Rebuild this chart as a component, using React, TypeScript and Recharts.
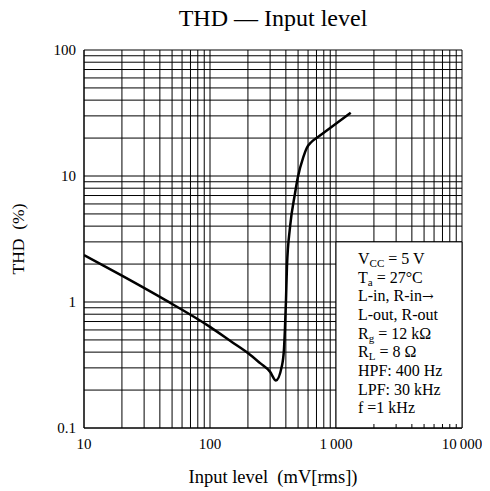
import React from "react";
import {
  LineChart,
  Line,
  XAxis,
  YAxis,
  CartesianGrid,
  ReferenceArea,
  ReferenceLine,
  Label,
} from "recharts";

// input level (mV rms) and THD (%)
const inputLevel = [
  10, 20, 44, 100, 150, 201, 250, 299, 334, 371, 386, 393, 401, 408, 432, 473,
  496, 551, 585, 641, 724, 1309,
];
const thd = [
  2.36, 1.62, 1.04, 0.635, 0.48, 0.392, 0.327, 0.28, 0.238, 0.307, 0.415, 0.6,
  1.04, 1.9, 3.96, 7.3, 9.6, 14.2, 16.6, 18.7, 20.5, 31.8,
];

const xTicks = [
  10, 20, 30, 40, 50, 60, 70, 80, 90,
  100, 200, 300, 400, 500, 600, 700, 800, 900,
  1000, 2000, 3000, 4000, 5000, 6000, 7000, 8000, 9000, 10000,
];
const xMajor = [10, 100, 1000, 10000];
const xMajorLabels = ["10", "100", "1\u2009000", "10\u2009000"];
const xInnerTicks = [2000, 3000, 4000, 5000, 6000, 7000, 8000, 9000];

const yTicks = [
  0.1, 0.2, 0.3, 0.4, 0.5, 0.6, 0.7, 0.8, 0.9,
  1, 2, 3, 4, 5, 6, 7, 8, 9,
  10, 20, 30, 40, 50, 60, 70, 80, 90, 100,
];
const yMajor = [0.1, 1, 10, 100];
const yMajorLabels = ["0.1", "1", "10", "100"];

const data = inputLevel.map((x, i) => ({ x, y: thd[i] }));

const FONT = "'Liberation Serif', 'Times New Roman', serif";

const conditionsBox = (props: any) => {
  const vb = props.viewBox || {};
  const x0 = vb.x + 22;
  const y0 = vb.y + 22;
  const lh = 18.7;
  const sub = { fontSize: 11 };
  return (
    <text x={x0} y={y0} fontSize={16} fill="#000" fontFamily={FONT}>
      <tspan x={x0} y={y0}>V</tspan>
      <tspan dy={3} style={sub}>CC</tspan>
      <tspan dy={-3}> = 5 V</tspan>
      <tspan x={x0} y={y0 + lh}>T</tspan>
      <tspan dy={3} style={sub}>a</tspan>
      <tspan dy={-3}> = 27°C</tspan>
      <tspan x={x0} y={y0 + lh * 2}>L-in, R-in</tspan>
      <tspan style={{ fontFamily: "'DejaVu Serif', serif", fontSize: 14 }}>→</tspan>
      <tspan x={x0} y={y0 + lh * 3}>L-out, R-out</tspan>
      <tspan x={x0} y={y0 + lh * 4}>R</tspan>
      <tspan dy={3} style={sub}>g</tspan>
      <tspan dy={-3}> = 12 kΩ</tspan>
      <tspan x={x0} y={y0 + lh * 5}>R</tspan>
      <tspan dy={3} style={sub}>L</tspan>
      <tspan dy={-3}> = 8 Ω</tspan>
      <tspan x={x0} y={y0 + lh * 6}>HPF: 400 Hz</tspan>
      <tspan x={x0} y={y0 + lh * 7}>LPF: 30 kHz</tspan>
      <tspan x={x0} y={y0 + lh * 8}>f =1 kHz</tspan>
    </text>
  );
};

const yLabel = (props: any) => {
  const vb = props.viewBox || {};
  const cx = vb.x + 10;
  const cy = vb.y + vb.height / 2;
  return (
    <text
      x={cx}
      y={cy}
      transform={`rotate(-90 ${cx} ${cy})`}
      textAnchor="middle"
      dominantBaseline="central"
      fontSize={17.5}
      fill="#000"
      fontFamily={FONT}
    >
      {"THD\u00a0\u00a0(%)"}
    </text>
  );
};

// short tick rising from the bottom edge of the conditions box
const innerTick = (p: any) => {
  const yb = Math.max(p.y1, p.y2);
  return <line x1={p.x1} x2={p.x2} y1={yb} y2={yb - 4} stroke="#000" strokeWidth={1} />;
};

export default function App() {
  return (
    <div style={{ position: "relative", width: 474, height: 483, fontFamily: FONT }}>
      <div
        style={{
          position: "absolute",
          left: 76,
          width: 378,
          top: -2,
          textAlign: "center",
          fontSize: 24,
          lineHeight: "24px",
          color: "#000",
        }}
      >
        THD — Input level
      </div>
      <LineChart
        width={474}
        height={483}
        data={data}
        margin={{ top: 42, right: 20, bottom: 0, left: 0 }}
      >
        <CartesianGrid stroke="#000" strokeWidth={1} />
        <ReferenceArea
          x1={1000}
          x2={10000}
          y1={0.1}
          y2={3}
          fill="#fff"
          fillOpacity={1}
          stroke="#000"
          strokeWidth={1}
          label={conditionsBox}
        />
        {xInnerTicks.map((t) => (
          <ReferenceLine key={t} x={t} shape={innerTick} />
        ))}
        <XAxis
          dataKey="x"
          type="number"
          scale="log"
          domain={[10, 10000]}
          ticks={xTicks}
          interval={0}
          allowDataOverflow
          height={63}
          tickSize={0}
          tickMargin={10}
          axisLine={{ stroke: "#000" }}
          tick={{ fill: "#000", fontSize: 15 }}
          tickFormatter={(v: number) => {
            const i = xMajor.indexOf(v);
            return i >= 0 ? xMajorLabels[i] : "";
          }}
        >
          <Label
            value={"Input level\u00a0\u00a0(mV[rms])"}
            position="insideBottom"
            offset={8}
            fill="#000"
            fontSize={18.5}
          />
        </XAxis>
        <YAxis
          dataKey="y"
          type="number"
          scale="log"
          domain={[0.1, 100]}
          ticks={yTicks}
          interval={0}
          allowDataOverflow
          width={76}
          tickSize={0}
          tickMargin={8}
          axisLine={{ stroke: "#000" }}
          tick={{ fill: "#000", fontSize: 15 }}
          tickFormatter={(v: number) => {
            const i = yMajor.findIndex((m) => Math.abs(m - v) < 1e-9);
            return i >= 0 ? yMajorLabels[i] : "";
          }}
        >
          <Label content={yLabel} />
        </YAxis>
        <Line
          dataKey="y"
          type="monotone"
          stroke="#000"
          strokeWidth={2.5}
          dot={false}
          isAnimationActive={false}
        />
      </LineChart>
    </div>
  );
}
